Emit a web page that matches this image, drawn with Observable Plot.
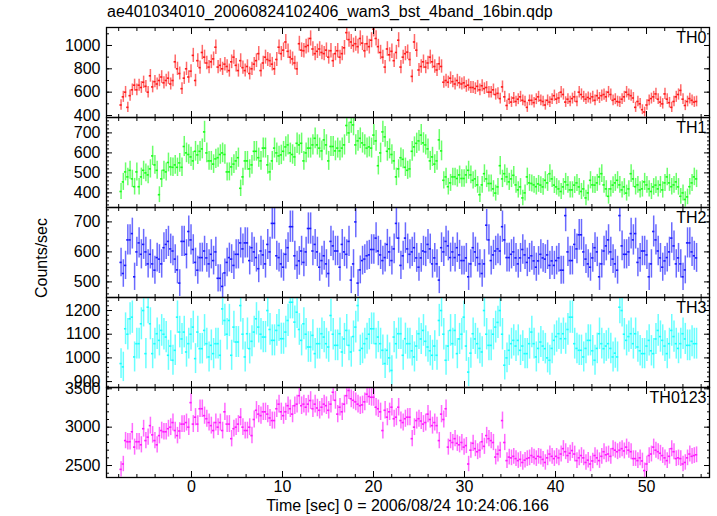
<!DOCTYPE html>
<html><head><meta charset="utf-8">
<script src="https://cdn.jsdelivr.net/npm/d3@7"></script>
<script src="https://cdn.jsdelivr.net/npm/@observablehq/plot@0.6"></script>
<style>
body{margin:0;background:#fff;}
#root{position:relative;width:717px;height:516px;font-family:"Liberation Sans",Arial,Helvetica,sans-serif;color:#000;background:#fff;overflow:hidden;}
.txt{position:absolute;white-space:nowrap;font-size:16px;line-height:18px;color:#000;}
.pan{position:absolute;left:0;}
</style></head><body><div id="root"></div>
<script>
// ---- data ----
const title = "ae401034010_20060824102406_wam3_bst_4band_16bin.qdp";
const xLabel = "Time [sec] 0 = 2006/08/24 10:24:06.166";
const yLabel = "Counts/sec";
const bands = ["TH0", "TH1", "TH2", "TH3", "TH0123"];
const T0 = -7.74;   // centre of first bin (s)
const DT = 0.248;   // bin width (s)
const BIN = 0.25;   // exposure per bin for Poisson errors

const th0 = [
490,560,600,470, 570,620,660,620, 660,640,685,650, 600,740,645,690,
670,700,730,680, 700,720,670,700, 860,800,760,630, 720,800,730,780,
915,700,870,810, 940,900,850,815, 860,885,985,815, 830,800,840,820,
785,860,900,830, 785,870,810,785, 820,760,800,840, 870,930,785,850,
900,880,870,840, 800,880,985,930, 960,1030,950,900, 885,850,800,1015,
960,955,990,1000, 1060,970,930,950, 970,940,930,960, 900,955,870,930,
955,900,930,980, 1110,1050,1030,1000, 1015,990,1060,1020, 955,1015,990,1045,
1140,1060,990,940, 900,815,970,920, 950,870,940,1045, 815,900,930,943,
880,735,1030,960, 790,820,860,815, 850,900,860,820, 790,843,820,685,
700,685,720,690, 670,700,680,670, 680,650,660,640, 640,630,650,620,
655,630,640,600, 600,620,580,590, 545,645,560,486, 540,515,550,520,
540,560,530,520, 470,530,530,510, 540,560,530,520, 490,530,515,540,
570,540,550,600, 580,515,540,520, 545,560,520,600, 580,560,540,555,
545,560,530,570, 550,570,580,560, 600,580,530,540, 520,515,540,560,
600,580,570,550, 470,520,500,450, 430,490,530,545, 560,585,540,515,
500,585,540,510, 470,520,560,580, 615,540,486,520, 545,530,515,520];

const th1 = [
407,455,505,480, 513,470,431,505, 431,480,513,500, 490,520,585,540,
513,391,470,513, 505,552,530,528, 540,528,550,528, 632,600,592,580,
560,608,590,608, 620,705,600,560, 560,544,570,576, 592,600,592,505,
505,530,544,560, 576,423,480,560, 560,520,540,608, 608,576,560,624,
624,540,505,560, 624,600,585,590, 608,630,640,600, 592,580,648,640,
648,560,600,624, 624,640,673,640, 624,610,665,640, 560,632,632,610,
624,610,624,640, 737,700,753,740, 640,660,673,650, 640,624,630,624,
689,660,536,600, 705,680,608,620, 592,560,480,520, 576,568,528,513,
520,608,630,648, 660,689,650,640, 620,560,580,544, 560,665,610,463,
480,431,450,480, 480,472,490,472, 472,490,513,490, 463,470,440,391,
440,496,470,447, 447,420,399,430, 536,470,496,480, 455,470,488,440,
415,430,375,400, 480,450,447,440, 431,445,439,430, 463,450,496,470,
439,430,420,407, 430,455,440,415, 415,439,450,430, 407,420,375,400,
463,440,439,450, 480,496,440,420, 383,420,439,450, 463,440,415,430,
399,420,496,470, 431,440,415,420, 455,440,420,407, 430,439,420,440,
415,450,480,450, 431,440,455,430, 383,400,367,380, 431,450,480,470];

const th2 = [
565,528,555,640, 640,661,517,600, 630,592,625,600, 560,592,560,539,
581,576,560,614, 625,635,610,603, 576,540,496,635, 635,592,668,640,
608,565,539,581, 581,603,580,560, 592,571,600,512, 512,485,530,565,
581,576,555,592, 592,630,610,630, 630,571,614,600, 581,544,603,590,
560,625,600,695, 695,587,581,560, 549,592,614,684, 684,587,555,570,
603,565,600,678, 678,603,625,600, 549,571,587,560, 528,635,620,603,
603,549,625,600, 592,635,506,560, 700,496,540,571, 576,587,590,608,
608,646,603,590, 571,581,625,600, 571,610,695,646, 555,587,646,610,
592,600,614,580, 549,580,603,600, 625,610,560,580, 560,506,614,600,
635,620,581,600, 581,614,590,571, 571,580,517,560, 614,600,581,560,
528,560,689,640, 571,590,603,610, 603,684,640,581, 581,592,600,580,
560,580,608,590, 565,580,587,570, 549,570,592,580, 576,590,555,570,
555,571,580,539, 539,721,600,571, 571,625,610,657, 657,600,576,560,
549,580,614,600, 517,560,603,620, 640,600,576,560, 539,721,620,592,
592,600,661,640, 661,565,580,603, 603,590,517,560, 668,640,603,580,
549,570,581,600, 646,620,560,580, 560,517,540,630, 630,600,587,580];

const th3 = [
976,962,1123,1100, 1165,1172,1004,1060, 1060,1144,1200,1018, 1214,1144,1018,1060,
1102,1074,1116,1100, 1088,1011,1050,990, 1032,1172,1109,1080, 1109,1025,1060,1100,
1130,997,1109,1039, 1039,1116,1060,1004, 1053,1018,1060,1060, 1011,1207,1158,1100,
1158,1011,1130,1067, 1067,1221,1100,1004, 1102,1039,1070,1109, 1165,1130,1100,1088,
1088,1200,1120,1074, 1074,1116,1137,1081, 1081,1109,1158,1235, 1235,1151,1193,1120,
1074,1144,1100,1046, 1046,1095,1018,1060, 1060,1102,1088,1060, 1046,1179,1100,1053,
1053,1102,1025,1080, 1116,1053,1025,1090, 1130,1221,1032,1040, 1060,1081,1100,1123,
1123,1060,1088,1060, 1032,976,1032,1000, 947,1088,1060,1102, 1102,1011,1081,1060,
1060,1030,1004,1050, 1102,1080,1116,1070, 1046,1030,1011,1050, 1011,1158,1200,1100,
990,1050,1116,1060, 1116,1018,1080,1100, 1172,1050,940,1020, 1102,1080,1060,1040,
1025,1200,1100,1053, 1053,1100,1130,1150, 1200,1100,969,1000, 1032,1060,1074,1050,
1074,1032,1050,1018, 1018,1060,1109,1060, 1004,1040,1067,1050, 1039,1000,990,1040,
1074,1090,1102,1081, 1102,1081,1120,1172, 1172,1060,1040,1032, 1032,1004,1040,1074,
1074,1030,990,1040, 1102,1060,1039,1050, 1060,1040,1004,1020, 1004,1214,1200,1100,
1074,1090,1102,1060, 1102,1046,1030,1018, 1018,1050,1074,1030, 1018,1080,1116,1090,
1074,1050,1018,1060, 1116,1090,1060,1040, 1060,1102,1080,1053, 1053,1070,1060,1060];

const th0123 = [
2450,2520,2825,2810, 2810,2940,2740,2810, 2810,2770,2980,2825, 2870,3020,2900,2825,
2770,2890,2956,2940, 2940,2980,3000,3060, 2956,2890,2950,3040, 3040,3060,3000,3320,
3040,3130,3040,3240, 3240,3150,3110,3060, 3020,2956,3060,3000, 3060,2956,3200,3040,
3040,2850,2980,3000, 3040,3130,3000,2956, 2956,3000,2890,3100, 3220,3170,3150,3200,
3200,3170,3120,3086, 3086,3240,3300,3200, 3150,3200,3280,3240, 3170,3280,3300,3410,
3280,3300,3260,3300, 3347,3240,3300,3250, 3220,3260,3300,3280, 3220,3300,3455,3350,
3170,3260,3200,3300, 3410,3478,3370,3350, 3330,3300,3280,3290, 3330,3430,3400,3390,
3390,3260,3240,3200, 2956,3220,3130,3200, 3260,3110,3130,3260, 3086,3060,3110,3130,
3130,2850,3000,3086, 3110,3080,3040,3060, 3170,3100,3020,3060, 3020,2825,3170,3100,
3240,2740,2825,2800, 2850,2790,2770,2800, 2740,2760,2520,2700, 2790,2720,2680,2700,
2810,2750,2890,2850, 2825,2800,2610,2650, 2700,3086,2800,2564, 2610,2600,2620,2590,
2564,2580,2540,2570, 2590,2600,2630,2610, 2590,2620,2610,2580, 2540,2600,2650,2620,
2590,2620,2600,2650, 2720,2680,2630,2660, 2695,2650,2564,2600, 2630,2600,2540,2570,
2520,2560,2630,2600, 2564,2620,2680,2640, 2650,2620,2720,2700, 2680,2700,2720,2690,
2740,2700,2680,2590, 2590,2564,2600,2560, 2434,2520,2630,2650, 2740,2700,2680,2660,
2630,2600,2564,2620, 2720,2680,2590,2600, 2590,2520,2540,2600, 2650,2620,2630,2640];

const series = [th0, th1, th2, th3, th0123];
const colors = ["#ff1a1a", "#1aff1a", "#1a1aff", "#1affff", "#ff1aff"];

const xDomain = [-9.34, 56.92];
const xMajor = [0, 10, 20, 30, 40, 50];
const xMinor = d3.range(-8, 57, 2);

const yDomains = [[383, 1154], [327, 777], [448, 748], [875, 1255], [2344, 3517]];
const yMajor = [
  [400, 600, 800, 1000],
  [400, 500, 600, 700],
  [500, 600, 700],
  [900, 1000, 1100, 1200],
  [2500, 3000, 3500]
];
const yMinorStep = [100, 20, 20, 20, 100];

// ---- layout ----
const W = 717, ML = 106, MR = 8;
const panelTop = [27, 117, 207, 297, 387];
const panelH = 90;
const FS = 16;
const FONT = '"Liberation Sans", Arial, Helvetica, sans-serif';

const root = document.getElementById("root");

function addText(str, css) {
  const d = document.createElement("div");
  d.className = "txt";
  d.textContent = str;
  Object.assign(d.style, css);
  root.appendChild(d);
  return d;
}

function tickOnly(data, anchor, size, axis) {
  const f = axis === "x" ? Plot.axisX : Plot.axisY;
  return f(data, {anchor, tickSize: -size, tickFormat: () => "", label: null, stroke: "#000", strokeWidth: 1});
}

series.forEach((vals, i) => {
  const rows = vals.map((v, k) => ({t: T0 + k * DT, v, e: Math.sqrt(v / BIN)}));
  const [y0, y1] = yDomains[i];
  const minor = d3.range(Math.ceil(y0 / yMinorStep[i]) * yMinorStep[i], y1, yMinorStep[i]);
  const marks = [
    Plot.ruleX(rows, {x: "t", y1: d => d.v - d.e, y2: d => d.v + d.e, stroke: colors[i], strokeWidth: 1.5, strokeOpacity: 0.65, clip: true}),
    Plot.ruleY(rows, {y: "v", x1: d => d.t - DT / 2, x2: d => d.t + DT / 2, stroke: colors[i], strokeWidth: 1.6, clip: true}),
    tickOnly(minor, "left", 3, "y"),
    tickOnly(minor, "right", 3, "y"),
    tickOnly(yMajor[i], "left", 6, "y"),
    tickOnly(yMajor[i], "right", 6, "y"),
    tickOnly(xMinor, "top", 3, "x"),
    tickOnly(xMinor, "bottom", 3, "x"),
    tickOnly(xMajor, "top", 6, "x"),
    tickOnly(xMajor, "bottom", 6, "x"),
    Plot.axisY(yMajor[i], {anchor: "left", tickSize: 0, tickPadding: 6, fontSize: FS, label: null, fill: "#000", tickFormat: d => String(d)}),
    Plot.frame({stroke: "#000", strokeWidth: 1.3}),
    Plot.text([bands[i]], {text: d => d, frameAnchor: "top-right", dx: -3, dy: 4, lineAnchor: "top", textAnchor: "end", fontSize: FS, fill: "#000"})
  ];
  if (i === series.length - 1) {
    marks.push(Plot.axisX(xMajor, {anchor: "bottom", tickSize: 0, tickPadding: 3, fontSize: FS, label: null, fill: "#000", tickFormat: d => String(d)}));
  }
  const svg = Plot.plot({
    width: W, height: panelH,
    marginLeft: ML, marginRight: MR, marginTop: 0, marginBottom: 0,
    x: {domain: xDomain},
    y: {domain: yDomains[i]},
    style: {overflow: "visible", fontFamily: FONT, fontSize: FS + "px", background: "transparent", color: "#000"},
    marks
  });
  svg.classList.add("pan");
  svg.style.position = "absolute";
  svg.style.top = panelTop[i] + "px";
  svg.style.left = "0px";
  root.appendChild(svg);
});

addText(title, {left: "107px", top: "3px"});
addText(xLabel, {left: ML + "px", width: (W - ML - MR) + "px", textAlign: "center", top: "497px"});
addText(yLabel, {left: "42px", top: "258px", transform: "translate(-50%,-50%) rotate(-90deg)"});
</script>
</body></html>
